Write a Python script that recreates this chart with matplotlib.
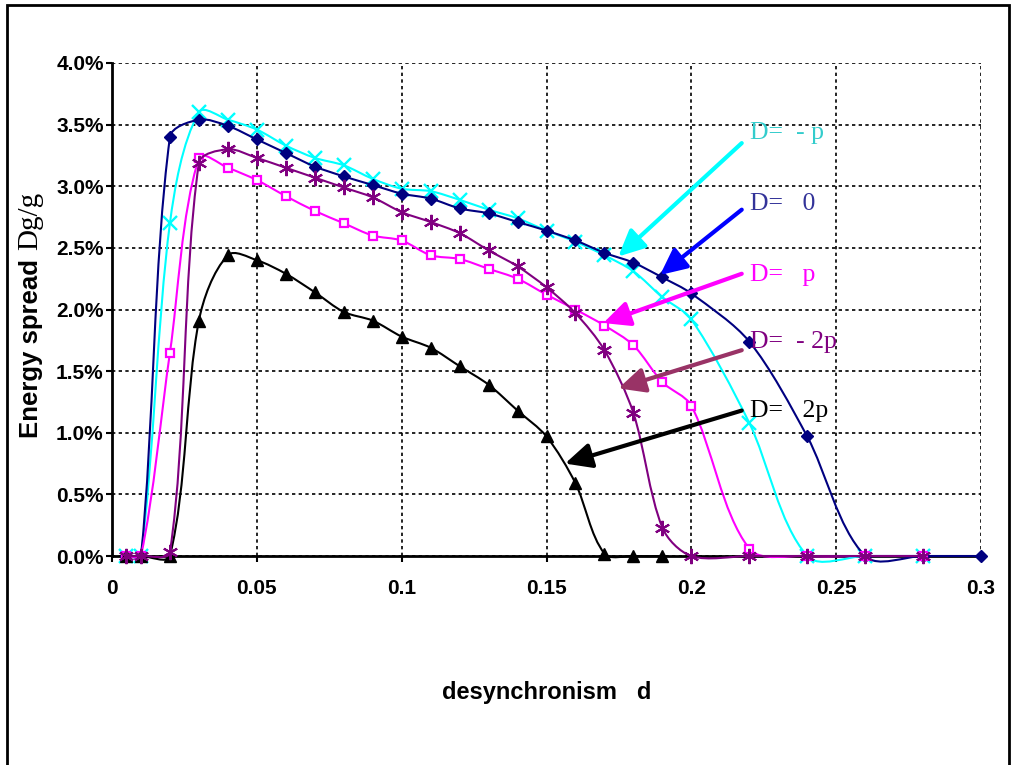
import numpy as np
import matplotlib
matplotlib.use('Agg')
import matplotlib.pyplot as plt
from matplotlib.path import Path
from matplotlib.patches import PathPatch, Rectangle

plt.rcParams['font.family'] = ['Liberation Sans', 'DejaVu Sans']

# desynchronism values (x) and energy spread in percent (y)
x_full = [0.005, 0.01, 0.02, 0.03, 0.04, 0.05, 0.06, 0.07, 0.08, 0.09, 0.10,
          0.11, 0.12, 0.13, 0.14, 0.15, 0.16, 0.17, 0.18, 0.19, 0.20,
          0.22, 0.24, 0.26, 0.28, 0.30]
x_to_028 = x_full[:-1]
x_to_019 = x_full[:20]

spread_0 = [0, 0, 3.40, 3.54, 3.49, 3.38, 3.27, 3.16, 3.08, 3.01, 2.94,
            2.90, 2.82, 2.78, 2.71, 2.64, 2.56, 2.46, 2.38, 2.26, 2.13,
            1.74, 0.97, 0, 0, 0]
spread_mp = [0, 0, 2.70, 3.60, 3.54, 3.46, 3.33, 3.23, 3.17, 3.06, 2.98,
             2.96, 2.89, 2.81, 2.74, 2.64, 2.55, 2.44, 2.31, 2.10, 1.92,
             1.08, 0, 0, 0]
spread_p = [0, 0, 1.65, 3.23, 3.15, 3.05, 2.92, 2.80, 2.70, 2.60, 2.56,
            2.44, 2.41, 2.33, 2.25, 2.12, 2.00, 1.87, 1.71, 1.41, 1.22,
            0.06, 0, 0, 0]
spread_m2p = [0, 0, 0.03, 3.19, 3.30, 3.23, 3.15, 3.07, 2.99, 2.91, 2.79,
              2.71, 2.62, 2.48, 2.35, 2.18, 1.97, 1.67, 1.16, 0.23, 0,
              0, 0, 0, 0]
spread_2p = [0, 0, 0, 1.91, 2.44, 2.40, 2.29, 2.14, 1.98, 1.91, 1.78,
             1.69, 1.54, 1.39, 1.18, 0.97, 0.59, 0.02, 0, 0]

x_ticks = [0, 0.05, 0.1, 0.15, 0.2, 0.25, 0.3]
x_tick_labels = ['0', '0.05', '0.1', '0.15', '0.2', '0.25', '0.3']
y_ticks = [0, 0.5, 1.0, 1.5, 2.0, 2.5, 3.0, 3.5, 4.0]


def smooth_path(ax, x, y, s=0.3):
    # Excel-like smoothed line, control arms built in screen space
    p = ax.transData.transform(np.column_stack([x, y]).astype(float))
    n = len(p)
    tang = []
    for i in range(n):
        a = p[i - 1] if i > 0 else p[i]
        b = p[i + 1] if i + 1 < n else p[i]
        t = b - a
        tang.append(t / (np.hypot(*t) or 1.0))
    verts = [p[0]]
    codes = [Path.MOVETO]
    for i in range(n - 1):
        d = np.hypot(*(p[i + 1] - p[i]))
        verts += [p[i] + tang[i] * d * s, p[i + 1] - tang[i + 1] * d * s, p[i + 1]]
        codes += [Path.CURVE4] * 3
    verts = ax.transData.inverted().transform(np.array(verts))
    return Path(verts, codes)


fig = plt.figure(figsize=(10.15, 7.65), dpi=100)
ax = fig.add_axes([112 / 1015, 1 - 556 / 765, (981 - 112) / 1015, (556 - 63) / 765])
ax.set_xlim(0, 0.3)
ax.set_ylim(0, 4.0)

series = [
    (x_to_028, spread_mp, '#00FFFF', dict(marker='x', ms=10, mew=1.7, mfc='#00FFFF', mec='#00FFFF')),
    (x_full, spread_0, '#000080', dict(marker='D', ms=6.5, mew=1, mfc='#000080', mec='#000080')),
    (x_to_028, spread_p, '#FF00FF', dict(marker='s', ms=6, mew=1.6, mfc='white', mec='#FF00FF')),
    (x_to_019, spread_2p, 'black', dict(marker='^', ms=8.5, mew=1, mfc='black', mec='black')),
    (x_to_028, spread_m2p, '#800080', dict(marker=(6, 2, 0), ms=11, mew=1.5, mfc='#800080', mec='#800080')),
]

for k, (xs, ys, col, mk) in enumerate(series):
    patch = PathPatch(smooth_path(ax, xs, ys), fill=False, edgecolor=col, lw=1.5,
                      clip_on=False, zorder=3 + k)
    ax.add_patch(patch)
    ax.plot(xs, ys, linestyle='none', clip_on=False, zorder=3.5 + k, **mk)

ax.set_xticks(x_ticks)
ax.set_xticklabels(x_tick_labels)
ax.set_yticks(y_ticks)
ax.set_yticklabels(['{:.1f}%'.format(v) for v in y_ticks])
ax.tick_params(direction='out', length=4.5, width=1.5, labelsize=15)
ax.tick_params(axis='x', pad=12)
ax.tick_params(axis='y', pad=1.5)
for lab in ax.get_xticklabels() + ax.get_yticklabels():
    lab.set_fontweight('bold')

ax.grid(True, color='black', linestyle=(0, (2, 2)), linewidth=1.2)
ax.set_axisbelow(True)
for s in ['top', 'right']:
    ax.spines[s].set_visible(False)
for s in ['left', 'bottom']:
    ax.spines[s].set_linewidth(2)
    ax.spines[s].set_zorder(2.5)

ax.set_xlabel('desynchronism   d', fontsize=17, fontweight='bold')
ax.xaxis.set_label_coords(0.5, -(693 - 556) / 493)
ax.xaxis.label.set_va('center')

fig.text(31 / 1015, 1 - 438 / 765, 'Energy spread', rotation=90,
         rotation_mode='anchor', ha='left', va='center',
         fontsize=18.5, fontweight='bold')
fig.text(30 / 1015, 1 - 250 / 765, 'Dg/g', rotation=90,
         rotation_mode='anchor', ha='left', va='center',
         fontsize=21, family=['Liberation Serif', 'DejaVu Serif'])

# labels with arrows
notes = [
    ('D=  - p', '#33CCCC', '#00FFFF', (0.2203, 3.43), (0.2174, 3.35), (0.1748, 2.43)),
    ('D=   0', '#333399', '#0000FF', (0.2203, 2.86), (0.2174, 2.81), (0.1892, 2.28)),
    ('D=   p', '#FF00FF', '#FF00FF', (0.2203, 2.28), (0.2174, 2.29), (0.1696, 1.89)),
    ('D=  - 2p', '#800080', '#993366', (0.2203, 1.74), (0.2174, 1.67), (0.1748, 1.36)),
    ('D=   2p', 'black', 'black', (0.2203, 1.18), (0.2174, 1.18), (0.1564, 0.75)),
]
for txt, tcol, acol, tpos, start, tip in notes:
    ax.annotate('', xy=tip, xytext=start,
                arrowprops=dict(arrowstyle='-|>,head_length=0.8,head_width=0.38',
                                color=acol, lw=3, shrinkA=0, shrinkB=0,
                                mutation_scale=20),
                zorder=10)
    ax.text(tpos[0], tpos[1], txt, color=tcol, fontsize=18.5, ha='left',
            va='center', family=['Liberation Serif', 'DejaVu Serif'], zorder=11)

# outer chart border
fig.add_artist(Rectangle((7 / 1015, -0.05), (1009 - 7) / 1015, 1.05 - 5 / 765,
                         transform=fig.transFigure, fill=False,
                         edgecolor='black', lw=2))

fig.savefig('out.png', dpi=100)
